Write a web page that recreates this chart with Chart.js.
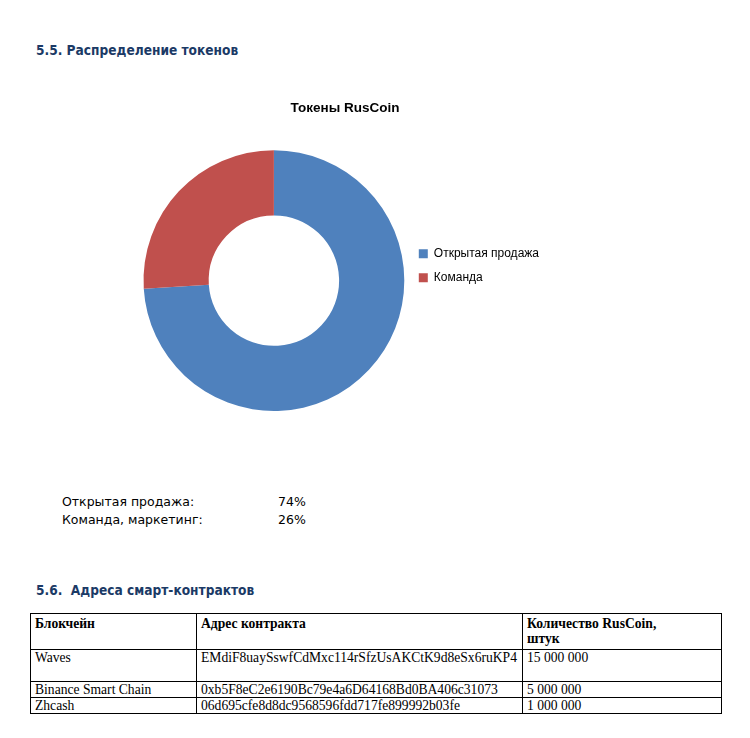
<!DOCTYPE html>
<html>
<head>
<meta charset="utf-8">
<script src="https://cdn.jsdelivr.net/npm/chart.js@4.4.0/dist/chart.umd.min.js"></script>
<style>
    body { margin: 0; background: #fff; width: 750px; height: 738px; position: relative; overflow: hidden; }
    .h { position: absolute; left: 36px; font: bold 13.6px "DejaVu Sans Condensed", "DejaVu Sans", sans-serif; color: #1b3a66; }
    #chartBox { position: absolute; left: 100px; top: 90px; width: 482px; height: 330px; }
    .share { position: absolute; left: 62px; font: 12.5px "DejaVu Sans", sans-serif; color: #000; }
    .share span { position: absolute; left: 216px; }
    table { position: absolute; left: 30px; top: 613px; width: 691px; border-collapse: collapse; table-layout: fixed;
            font: 13.6px "Liberation Serif", serif; }
    td { border: 1px solid #000; vertical-align: top; padding: 0 4px; line-height: 15px; white-space: nowrap; overflow: visible; }
    th { border: 1px solid #000; vertical-align: top; padding: 2px 4px; text-align: left; line-height: 15px; }
</style>
</head>
<body>
<div class="h" style="top:42px">5.5. Распределение токенов</div>
<div id="chartBox"><canvas id="tokensChart"></canvas></div>
<div class="share" style="top:494px">Открытая продажа:<span>74%</span></div>
<div class="share" style="top:512px">Команда, маркетинг:<span>26%</span></div>
<div class="h" style="top:582px">5.6.&nbsp; Адреса смарт-контрактов</div>
<table>
    <colgroup><col style="width:166px"><col style="width:326px"><col style="width:199px"></colgroup>
    <tr><th style="height:31px">Блокчейн</th><th>Адрес контракта</th><th>Количество RusCoin,<br>штук</th></tr>
    <tr><td style="height:31px">Waves</td><td>EMdiF8uaySswfCdMxc114rSfzUsAKCtK9d8eSx6ruKP4</td><td>15 000 000</td></tr>
    <tr><td>Binance Smart Chain</td><td>0xb5F8eC2e6190Bc79e4a6D64168Bd0BA406c31073</td><td>5 000 000</td></tr>
    <tr><td>Zhcash</td><td>06d695cfe8d8dc9568596fdd717fe899992b03fe</td><td>1 000 000</td></tr>
</table>
<script>
// Данные диаграммы
const chartTitle = 'Токены RusCoin';
const tokenLabels = ['Открытая продажа', 'Команда'];
const tokenShares = [74, 26];
const tokenColors = ['#4f81bd', '#c0504d'];

const ctx = document.getElementById('tokensChart');
new Chart(ctx, {
    type: 'doughnut',
    data: {
        labels: tokenLabels,
        datasets: [{
            data: tokenShares,
            backgroundColor: tokenColors,
            borderWidth: 0
        }]
    },
    options: {
        responsive: true,
        maintainAspectRatio: false,
        animation: false,
        cutout: '50%',
        layout: { padding: { left: 41, right: 33, top: 0, bottom: 9 } },
        plugins: {
            title: {
                display: true,
                text: chartTitle,
                color: '#000',
                font: { family: 'Liberation Sans', size: 13.5, weight: 'bold' },
                padding: { top: 10, bottom: 34 }
            },
            legend: {
                position: 'right',
                title: { display: true, text: ' ', padding: 8, font: { size: 12 } },
                labels: {
                    color: '#000',
                    boxWidth: 9,
                    boxHeight: 9,
                    padding: 12,
                    font: { family: 'Liberation Sans', size: 12 }
                }
            },
            tooltip: { enabled: false }
        }
    }
});
</script>
</body>
</html>
